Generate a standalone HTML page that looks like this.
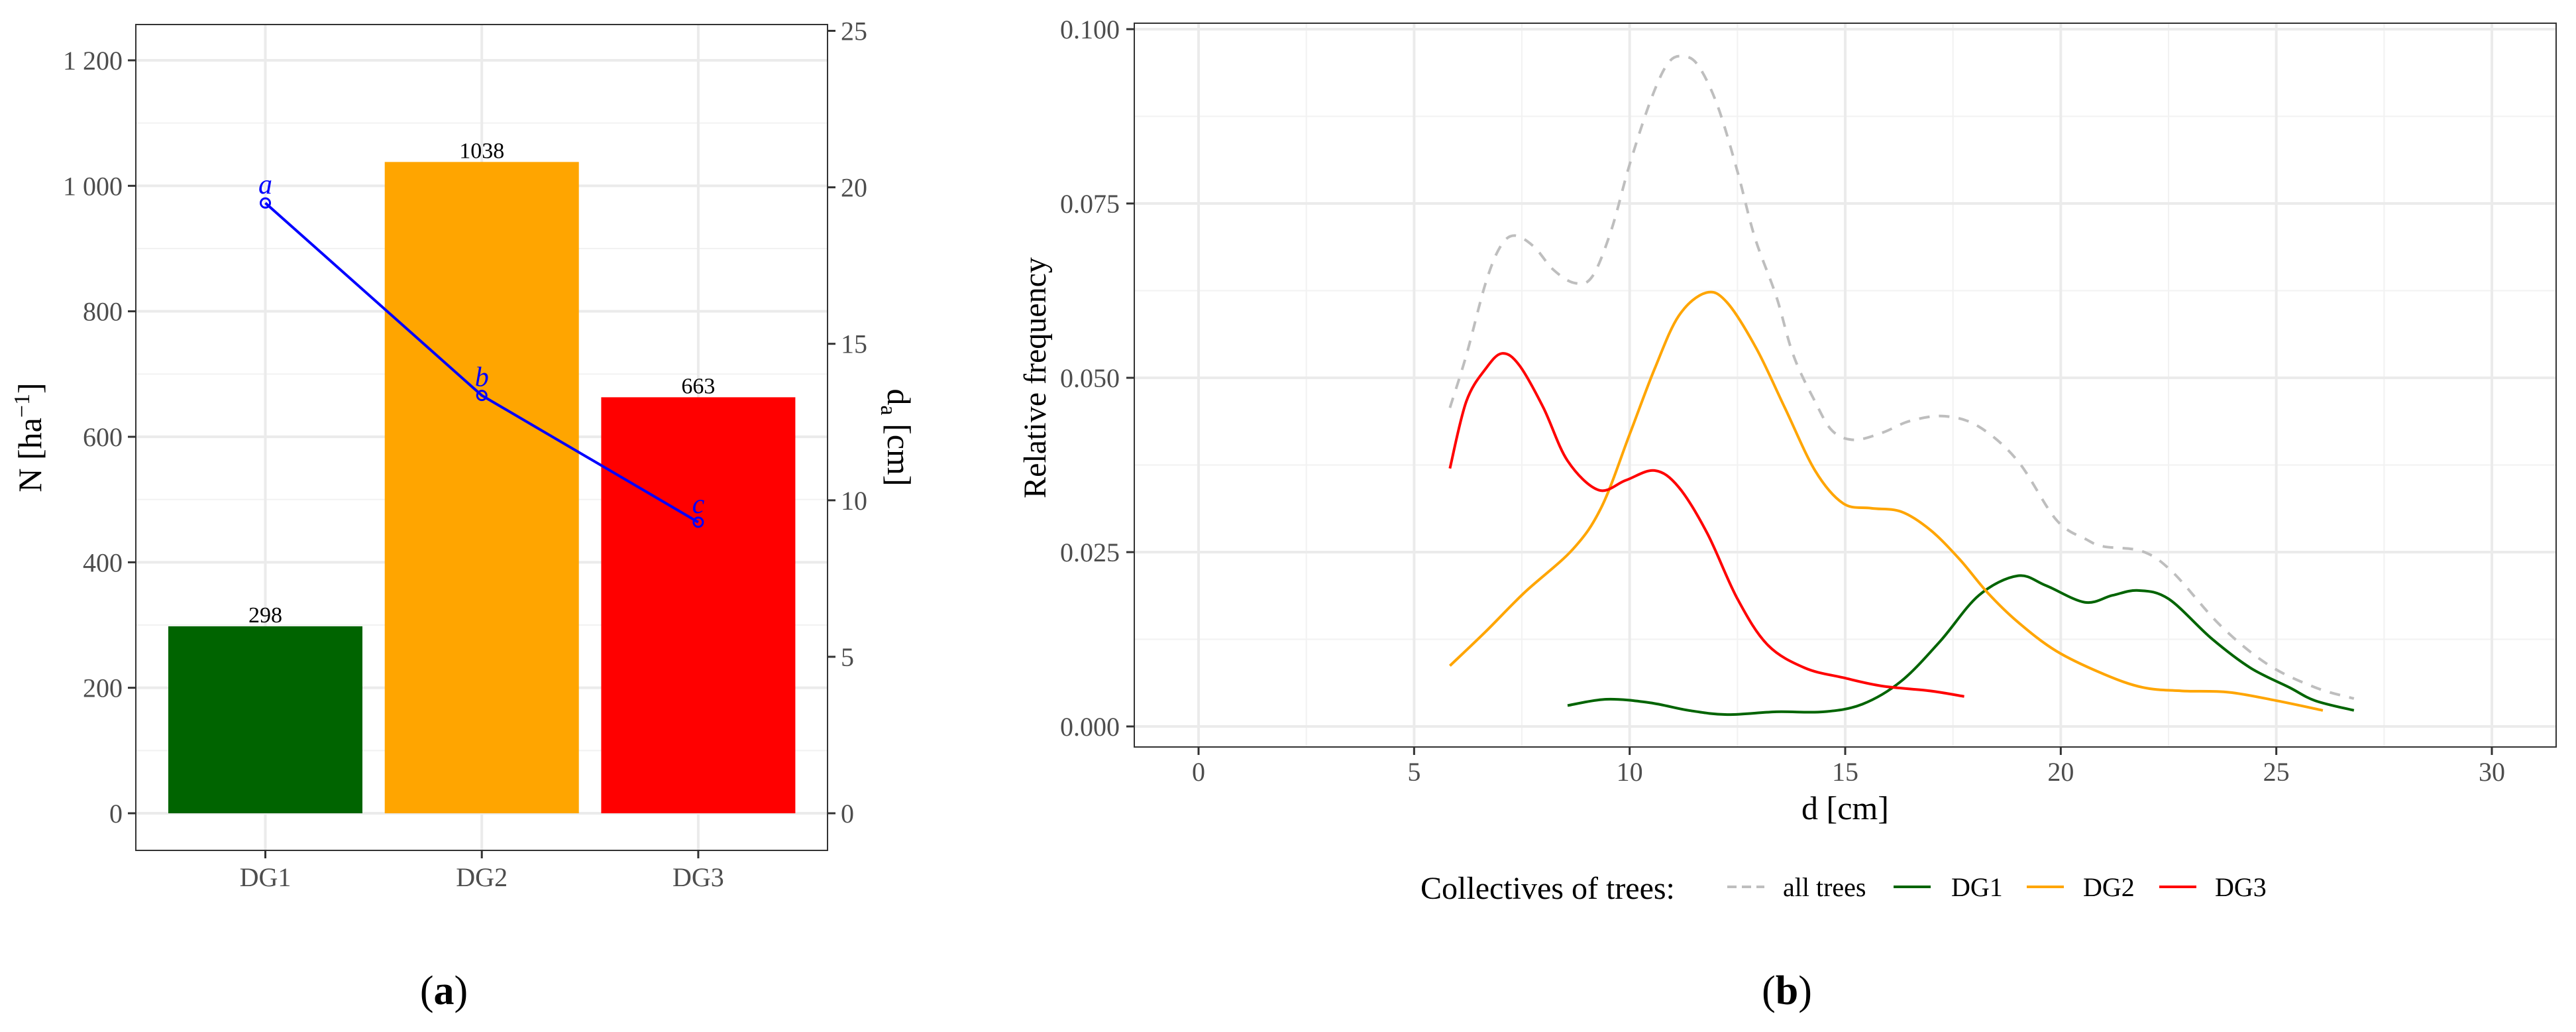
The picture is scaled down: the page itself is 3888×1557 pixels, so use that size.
<!DOCTYPE html>
<html><head><meta charset="utf-8"><style>
html,body{margin:0;padding:0;background:#fff;}
svg{display:block;font-family:"Liberation Serif",serif;}
</style></head><body>
<svg id="c" width="3888" height="1557" viewBox="0 0 3888 1557" xmlns="http://www.w3.org/2000/svg">
<g id="L"></g>
<g id="R"></g>
</svg>
<script>
// ---- Panel (a) data ----
const groups = ["DG1","DG2","DG3"];
const densityN = [298,1038,663];
const meanDiam = [19.5,13.35,9.3];
const diamLetters = ["a","b","c"];
const barColors = ["#006400","#FFA500","#FF0000"];
const nTicks = [0,200,400,600,800,1000,1200];
const nTickLabels = ["0","200","400","600","800","1 000","1 200"];
const dTicks = [0,5,10,15,20,25];

// ---- Panel (b) data ----
const xTicks = [0,5,10,15,20,25,30];
const yTicks = [0,0.025,0.05,0.075,0.1];
const yTickLabels = ["0.000","0.025","0.050","0.075","0.100"];
const allX = [5.83,6.21,6.66,7.0,7.33,7.78,8.23,8.72,9.13,9.57,10.0,10.5,10.9,11.26,11.6,12.04,12.5,12.9,13.4,13.8,14.3,14.7,15.2,15.85,16.5,17.3,18.1,19.0,19.9,20.6,21.0,21.9,22.6,23.7,24.8,25.9,26.8];
const allY = [.0457,.0532,.0636,.0688,.0704,.0688,.0655,.0636,.0645,.0711,.0806,.090,.0952,.0961,.0947,.089,.0796,.0702,.0617,.0532,.0466,.0424,.0411,.0421,.0438,.0445,.043,.0381,.0296,.0268,.0258,.0251,.0221,.0145,.0089,.0056,.004];
const dg1X = [8.56,9.46,10.47,11.37,12.26,13.4,14.5,15.4,16.3,17.2,18.1,19.0,19.66,20.56,21.2,21.8,22.5,23.5,24.4,25.3,25.9,26.8];
const dg1Y = [.003,.0039,.0034,.0023,.0017,.0021,.0021,.0032,.0065,.0122,.0188,.0216,.0202,.0178,.0188,.0195,.0183,.0126,.0084,.0056,.0037,.0023];
const dg2X = [5.83,6.66,7.56,8.68,9.35,10.0,10.58,11.14,11.77,12.26,12.94,13.6,14.3,14.95,15.6,16.3,16.97,17.65,18.3,19.0,19.9,21.0,21.9,22.8,23.9,25.0,26.08];
const dg2Y = [.0087,.0136,.0192,.0254,.0315,.0419,.0513,.0589,.0622,.0608,.0542,.0457,.0367,.032,.0313,.0308,.0282,.024,.0192,.015,.0108,.0075,.0056,.0051,.0049,.0037,.0023];
const dg3X = [5.83,6.21,6.66,7.04,7.44,8.0,8.56,9.28,9.91,10.58,11.14,11.8,12.5,13.2,14.06,14.95,15.85,16.97,17.76];
const dg3Y = [.037,.0466,.0513,.0535,.0518,.0457,.0381,.0339,.0353,.0367,.0343,.0277,.0183,.0117,.0084,.007,.0058,.0051,.0043];
const legendLabels = ["all trees","DG1","DG2","DG3"];

const NS="http://www.w3.org/2000/svg";
function mk(parent,tag,attrs,text){const e=document.createElementNS(NS,tag);for(const k in attrs)e.setAttribute(k,attrs[k]);if(text!==undefined)e.textContent=text;parent.appendChild(e);return e;}

// ===== Panel A =====
const L=document.getElementById('L');
const aL=205,aR=1249,aT=37,aB=1283;
const yN=v=>1227-v*(1227-91)/1200;
const yD=v=>1227-v*(1227-46.5)/25;
const xC=i=>400.5+i*326.7;
const bw=293;
mk(L,'rect',{x:aL,y:aT,width:aR-aL,height:aB-aT,fill:'#fff'});
for(let i=0;i<nTicks.length-1;i++){const m=(nTicks[i]+nTicks[i+1])/2;mk(L,'line',{x1:aL,x2:aR,y1:yN(m),y2:yN(m),stroke:'#f2f2f2','stroke-width':2});}
nTicks.forEach(v=>mk(L,'line',{x1:aL,x2:aR,y1:yN(v),y2:yN(v),stroke:'#ebebeb','stroke-width':4}));
groups.forEach((g,i)=>mk(L,'line',{x1:xC(i),x2:xC(i),y1:aT,y2:aB,stroke:'#ebebeb','stroke-width':4}));
groups.forEach((g,i)=>{
 const r=mk(L,'rect',{x:xC(i)-bw/2,y:yN(densityN[i]),width:bw,height:yN(0)-yN(densityN[i]),fill:barColors[i]});
 
 
 const t=mk(L,'text',{x:xC(i),y:yN(densityN[i])-6,'text-anchor':'middle','font-size':34,fill:'#000'},String(densityN[i]));
 
 
});
let pts=meanDiam.map((v,i)=>xC(i)+','+yD(v)).join(' ');
const pl=mk(L,'polyline',{points:pts,fill:'none',stroke:'#0000FF','stroke-width':4});


meanDiam.forEach((v,i)=>{
 const c=mk(L,'circle',{cx:xC(i),cy:yD(v),r:7,fill:'none',stroke:'#0000FF','stroke-width':3});
 
 
 const t=mk(L,'text',{x:xC(i),y:yD(v)-14,'text-anchor':'middle','font-size':42,'font-style':'italic',fill:'#0000FF'},diamLetters[i]);
 
 
});
mk(L,'rect',{x:aL,y:aT,width:aR-aL,height:aB-aT,fill:'none',stroke:'#333','stroke-width':2});
nTicks.forEach((v,i)=>{mk(L,'line',{x1:aL-12,x2:aL,y1:yN(v),y2:yN(v),stroke:'#333','stroke-width':3});
 const t=mk(L,'text',{x:aL-20,y:yN(v)+14,'text-anchor':'end','font-size':40,fill:'#4d4d4d'},nTickLabels[i]);
 });
dTicks.forEach(v=>{mk(L,'line',{x1:aR,x2:aR+12,y1:yD(v),y2:yD(v),stroke:'#333','stroke-width':3});
 const t=mk(L,'text',{x:aR+20,y:yD(v)+14,'font-size':40,fill:'#4d4d4d'},String(v));
 });
groups.forEach((g,i)=>{mk(L,'line',{x1:xC(i),x2:xC(i),y1:aB,y2:aB+12,stroke:'#333','stroke-width':3});
 const t=mk(L,'text',{x:xC(i),y:aB+54,'text-anchor':'middle','font-size':40,fill:'#4d4d4d'},g);
 });
</script>
<script>
(function(){
const L=document.getElementById('L');
const NS="http://www.w3.org/2000/svg";
const g=document.createElementNS(NS,'g');L.appendChild(g);
g.innerHTML='<text transform="translate(62,660) rotate(-90)" text-anchor="middle" font-size="50" fill="#000">N [ha<tspan dy="-18" font-size="34">−1</tspan><tspan dy="18">]</tspan></text>'+
'<text transform="translate(1340,660) rotate(90)" text-anchor="middle" font-size="50" fill="#000">d<tspan dy="10" font-size="34">a</tspan><tspan dy="-10"> [cm]</tspan></text>'+
'<text x="670" y="1515" text-anchor="middle" font-size="62" fill="#000">(<tspan font-weight="bold">a</tspan>)</text>';
})();
</script>
<script>
(function(){
const R=document.getElementById('R');
const NS="http://www.w3.org/2000/svg";
function mk(parent,tag,attrs,text){const e=document.createElementNS(NS,tag);for(const k in attrs)e.setAttribute(k,attrs[k]);if(text!==undefined)e.textContent=text;parent.appendChild(e);return e;}
const bL=1712,bR=3858,bT=35,bB=1127;
const sx=v=>1809+v*(3761-1809)/30;
const sy=v=>1096-v*(1096-44)/0.1;
for(let i=0;i<xTicks.length-1;i++){const m=(xTicks[i]+xTicks[i+1])/2;mk(R,'line',{x1:sx(m),x2:sx(m),y1:bT,y2:bB,stroke:'#f2f2f2','stroke-width':2});}
for(let i=0;i<yTicks.length-1;i++){const m=(yTicks[i]+yTicks[i+1])/2;mk(R,'line',{x1:bL,x2:bR,y1:sy(m),y2:sy(m),stroke:'#f2f2f2','stroke-width':2});}
xTicks.forEach(v=>mk(R,'line',{x1:sx(v),x2:sx(v),y1:bT,y2:bB,stroke:'#ebebeb','stroke-width':4}));
yTicks.forEach(v=>mk(R,'line',{x1:bL,x2:bR,y1:sy(v),y2:sy(v),stroke:'#ebebeb','stroke-width':4}));
function path(xs,ys){const p=xs.map((x,i)=>[sx(x),sy(ys[i])]);let d='M'+p[0][0]+','+p[0][1];
 for(let i=0;i<p.length-1;i++){const p0=p[Math.max(0,i-1)],p1=p[i],p2=p[i+1],p3=p[Math.min(p.length-1,i+2)];
  const c1=[p1[0]+(p2[0]-p0[0])/6,p1[1]+(p2[1]-p0[1])/6],c2=[p2[0]-(p3[0]-p1[0])/6,p2[1]-(p3[1]-p1[1])/6];
  d+=' C'+c1.join(',')+' '+c2.join(',')+' '+p2.join(',');}
 return d;}
const series=[[allX,allY,'#BEBEBE','16,14','all-trees'],[dg1X,dg1Y,'#006400','','dg1'],[dg2X,dg2Y,'#FFA500','','dg2'],[dg3X,dg3Y,'#FF0000','','dg3']];
series.forEach(s=>{
 const e=mk(R,'path',{d:path(s[0],s[1]),fill:'none',stroke:s[2],'stroke-width':4,'stroke-dasharray':s[3]});
 
 
});
mk(R,'rect',{x:bL,y:bT,width:bR-bL,height:bB-bT,fill:'none',stroke:'#333','stroke-width':2});
xTicks.forEach(v=>{mk(R,'line',{x1:sx(v),x2:sx(v),y1:bB,y2:bB+12,stroke:'#333','stroke-width':3});
 const t=mk(R,'text',{x:sx(v),y:1178,'text-anchor':'middle','font-size':40,fill:'#4d4d4d'},String(v));
 });
yTicks.forEach((v,i)=>{mk(R,'line',{x1:bL-12,x2:bL,y1:sy(v),y2:sy(v),stroke:'#333','stroke-width':3});
 const t=mk(R,'text',{x:1690,y:sy(v)+14,'text-anchor':'end','font-size':40,fill:'#4d4d4d'},yTickLabels[i]);
 });
const legX=[2607,2858,3059,3259];
const legT=[2691,2945,3144,3343];
legendLabels.forEach((lab,i)=>{
 const s=series[i];
 const ln=mk(R,'line',{x1:legX[i],x2:legX[i]+56,y1:1338,y2:1338,stroke:s[2],'stroke-width':4,'stroke-dasharray':s[3]?'14,8':''});
 
 
 const t=mk(R,'text',{x:legT[i],y:1352,'font-size':40,fill:'#000'},lab);
 
 
});
const g=document.createElementNS(NS,'g');R.appendChild(g);
g.innerHTML='<text transform="translate(1578,570) rotate(-90)" text-anchor="middle" font-size="48" fill="#000">Relative frequency</text>'+
'<text x="2785" y="1236" text-anchor="middle" font-size="50" fill="#000">d [cm]</text>'+
'<text x="2144" y="1356" font-size="48" fill="#000">Collectives of trees:</text>'+
'<text x="2697" y="1515" text-anchor="middle" font-size="62" fill="#000">(<tspan font-weight="bold">b</tspan>)</text>';
})();
</script>
</body></html>
